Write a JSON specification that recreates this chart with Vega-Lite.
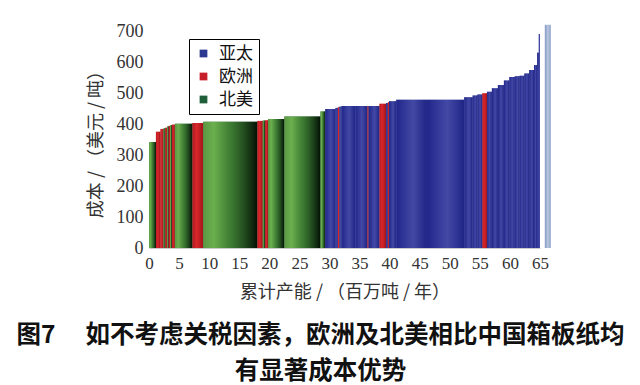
{
  "$schema": "https://vega.github.io/schema/vega-lite/v6.json",
  "width": 391,
  "height": 217,
  "autosize": "none",
  "padding": {"left": 149, "top": 31, "right": 100, "bottom": 137},
  "background": "white",
  "config": {"view": {"stroke": null}, "font": "Noto Sans CJK SC"},
  "title": {
    "text": ["图7　  如不考虑关税因素，欧洲及北美相比中国箱板纸均", "有显著成本优势"],
    "orient": "bottom",
    "anchor": "middle",
    "frame": "group",
    "dx": -24,
    "offset": 23,
    "font": "Noto Sans CJK SC",
    "fontSize": 24.5,
    "fontWeight": "bold",
    "color": "#111111",
    "lineHeight": 36
  },
  "datasets": {
    "bars": [
      {"x0": 0, "x1": 1.15, "cost": 342, "region": "北美"},
      {"x0": 1.15, "x1": 1.9, "cost": 375, "region": "欧洲"},
      {"x0": 1.9, "x1": 2.4, "cost": 384, "region": "欧洲"},
      {"x0": 2.4, "x1": 2.7, "cost": 386, "region": "北美"},
      {"x0": 2.7, "x1": 3.0, "cost": 388, "region": "欧洲"},
      {"x0": 3.0, "x1": 3.25, "cost": 392, "region": "北美"},
      {"x0": 3.25, "x1": 3.5, "cost": 394, "region": "欧洲"},
      {"x0": 3.5, "x1": 3.8, "cost": 396, "region": "北美"},
      {"x0": 3.8, "x1": 4.3, "cost": 398, "region": "欧洲"},
      {"x0": 4.3, "x1": 7.2, "cost": 401, "region": "北美"},
      {"x0": 7.2, "x1": 9.0, "cost": 403, "region": "欧洲"},
      {"x0": 9.0, "x1": 18.0, "cost": 407, "region": "北美"},
      {"x0": 18.0, "x1": 18.9, "cost": 410, "region": "欧洲"},
      {"x0": 18.9, "x1": 19.3, "cost": 411, "region": "北美"},
      {"x0": 19.3, "x1": 19.8, "cost": 412, "region": "欧洲"},
      {"x0": 19.8, "x1": 22.5, "cost": 416, "region": "北美"},
      {"x0": 22.5, "x1": 28.5, "cost": 424, "region": "北美"},
      {"x0": 28.5, "x1": 29.3, "cost": 440, "region": "北美"},
      {"x0": 29.3, "x1": 31.0, "cost": 448, "region": "亚太"},
      {"x0": 31.0, "x1": 31.4, "cost": 452, "region": "亚太"},
      {"x0": 31.4, "x1": 31.65, "cost": 454, "region": "欧洲"},
      {"x0": 31.65, "x1": 32.0, "cost": 456, "region": "亚太"},
      {"x0": 32.0, "x1": 34.3, "cost": 458, "region": "亚太"},
      {"x0": 34.3, "x1": 36.3, "cost": 458, "region": "亚太"},
      {"x0": 36.3, "x1": 36.5, "cost": 458, "region": "欧洲"},
      {"x0": 36.5, "x1": 38.3, "cost": 458, "region": "亚太"},
      {"x0": 38.3, "x1": 39.4, "cost": 465, "region": "欧洲"},
      {"x0": 39.4, "x1": 39.7, "cost": 468, "region": "亚太"},
      {"x0": 39.7, "x1": 39.9, "cost": 470, "region": "欧洲"},
      {"x0": 39.9, "x1": 41.1, "cost": 473, "region": "亚太"},
      {"x0": 41.1, "x1": 46.2, "cost": 478, "region": "亚太"},
      {"x0": 46.2, "x1": 52.4, "cost": 478, "region": "亚太"},
      {"x0": 52.4, "x1": 53.8, "cost": 486, "region": "亚太"},
      {"x0": 53.8, "x1": 54.6, "cost": 492, "region": "亚太"},
      {"x0": 54.6, "x1": 55.4, "cost": 495, "region": "亚太"},
      {"x0": 55.4, "x1": 56.2, "cost": 499, "region": "欧洲"},
      {"x0": 56.2, "x1": 57.0, "cost": 504, "region": "亚太"},
      {"x0": 57.0, "x1": 58.0, "cost": 515, "region": "亚太"},
      {"x0": 58.0, "x1": 59.0, "cost": 526, "region": "亚太"},
      {"x0": 59.0, "x1": 59.9, "cost": 540, "region": "亚太"},
      {"x0": 59.9, "x1": 60.8, "cost": 552, "region": "亚太"},
      {"x0": 60.8, "x1": 61.6, "cost": 554, "region": "亚太"},
      {"x0": 61.6, "x1": 62.4, "cost": 556, "region": "亚太"},
      {"x0": 62.4, "x1": 63.2, "cost": 563, "region": "亚太"},
      {"x0": 63.2, "x1": 64.0, "cost": 574, "region": "亚太"},
      {"x0": 64.0, "x1": 64.5, "cost": 590, "region": "亚太"},
      {"x0": 64.5, "x1": 64.8, "cost": 630, "region": "亚太"},
      {"x0": 64.8, "x1": 65.0, "cost": 690, "region": "亚太"},
      {"x0": 65.8, "x1": 66.8, "cost": 720, "region": "end"}
    ]
  },
  "data": {"name": "bars"},
  "encoding": {
    "x": {
      "field": "x0",
      "type": "quantitative",
      "scale": {"domain": [0, 65], "nice": false, "zero": false},
      "axis": {
        "values": [0, 5, 10, 15, 20, 25, 30, 35, 40, 45, 50, 55, 60, 65],
        "title": "累计产能 / （百万吨 / 年）",
        "grid": false,
        "ticks": false,
        "domainColor": "#cccccc",
        "labelFont": "Liberation Serif",
        "labelFontSize": 17,
        "labelColor": "#333333",
        "labelPadding": 7,
        "labelFlush": false,
        "titleFont": "Noto Sans CJK SC",
        "titleFontSize": 18,
        "titleFontWeight": "normal",
        "titleColor": "#333333",
        "titlePadding": 12
      }
    },
    "x2": {"field": "x1"},
    "y": {
      "field": "cost",
      "type": "quantitative",
      "scale": {"domain": [0, 700], "nice": false},
      "axis": {
        "values": [0, 100, 200, 300, 400, 500, 600, 700],
        "title": "成本 / （美元 / 吨）",
        "grid": false,
        "ticks": false,
        "domain": false,
        "labelFont": "Liberation Serif",
        "labelFontSize": 18,
        "labelColor": "#333333",
        "labelPadding": 6,
        "labelFlush": false,
        "titleFont": "Noto Sans CJK SC",
        "titleFontSize": 18,
        "titleFontWeight": "normal",
        "titleColor": "#333333",
        "titlePadding": 11
      }
    },
    "y2": {"datum": 0}
  },
  "layer": [
    {
      "transform": [{"filter": "datum.region !== 'end'"}],
      "mark": {"type": "rect", "strokeWidth": 0},
      "encoding": {
        "color": {
          "field": "region",
          "type": "nominal",
          "scale": {"domain": ["亚太", "欧洲", "北美"], "range": ["#2b3990", "#c8202a", "#1f5f3a"]},
          "legend": {
            "title": null,
            "orient": "none",
            "legendX": 40,
            "legendY": 8,
            "strokeColor": "#000000",
            "fillColor": "#ffffff",
            "padding": 6,
            "symbolType": "square",
            "symbolSize": 60,
            "symbolStrokeWidth": 0,
            "labelFont": "Noto Sans CJK SC",
            "labelFontSize": 17,
            "labelColor": "#111111",
            "labelOffset": 7,
            "rowPadding": 5
          }
        }
      }
    },
    {
      "transform": [{"filter": "datum.region === '北美'"}],
      "mark": {
        "type": "rect",
        "strokeWidth": 0,
        "fill": {
          "gradient": "linear",
          "stops": [
            {"offset": 0, "color": "rgba(105,165,70,0.8)"},
            {"offset": 0.2, "color": "rgba(115,185,80,0.9)"},
            {"offset": 0.55, "color": "rgba(65,125,45,0.75)"},
            {"offset": 1, "color": "rgba(0,10,0,0.92)"}
          ]
        }
      }
    },
    {
      "transform": [{"filter": "datum.region === '欧洲'"}],
      "mark": {
        "type": "rect",
        "strokeWidth": 0,
        "fill": {
          "gradient": "linear",
          "stops": [
            {"offset": 0, "color": "rgba(150,20,20,0.4)"},
            {"offset": 0.4, "color": "rgba(235,45,45,0.5)"},
            {"offset": 1, "color": "rgba(120,10,10,0.5)"}
          ]
        }
      }
    },
    {
      "transform": [{"filter": "datum.region === '亚太'"}],
      "mark": {
        "type": "rect",
        "strokeWidth": 0,
        "fill": {
          "gradient": "linear",
          "stops": [
            {"offset": 0, "color": "rgba(25,25,135,0.6)"},
            {"offset": 0.55, "color": "rgba(85,85,180,0.55)"},
            {"offset": 1, "color": "rgba(22,22,125,0.6)"}
          ]
        }
      }
    },
    {
      "transform": [{"filter": "datum.region === 'end'"}],
      "mark": {
        "type": "rect",
        "strokeWidth": 0,
        "fill": {
          "gradient": "linear",
          "stops": [
            {"offset": 0, "color": "#8598c2"},
            {"offset": 0.5, "color": "#b9c6e0"},
            {"offset": 1, "color": "#8fa3c9"}
          ]
        }
      }
    }
  ]
}
